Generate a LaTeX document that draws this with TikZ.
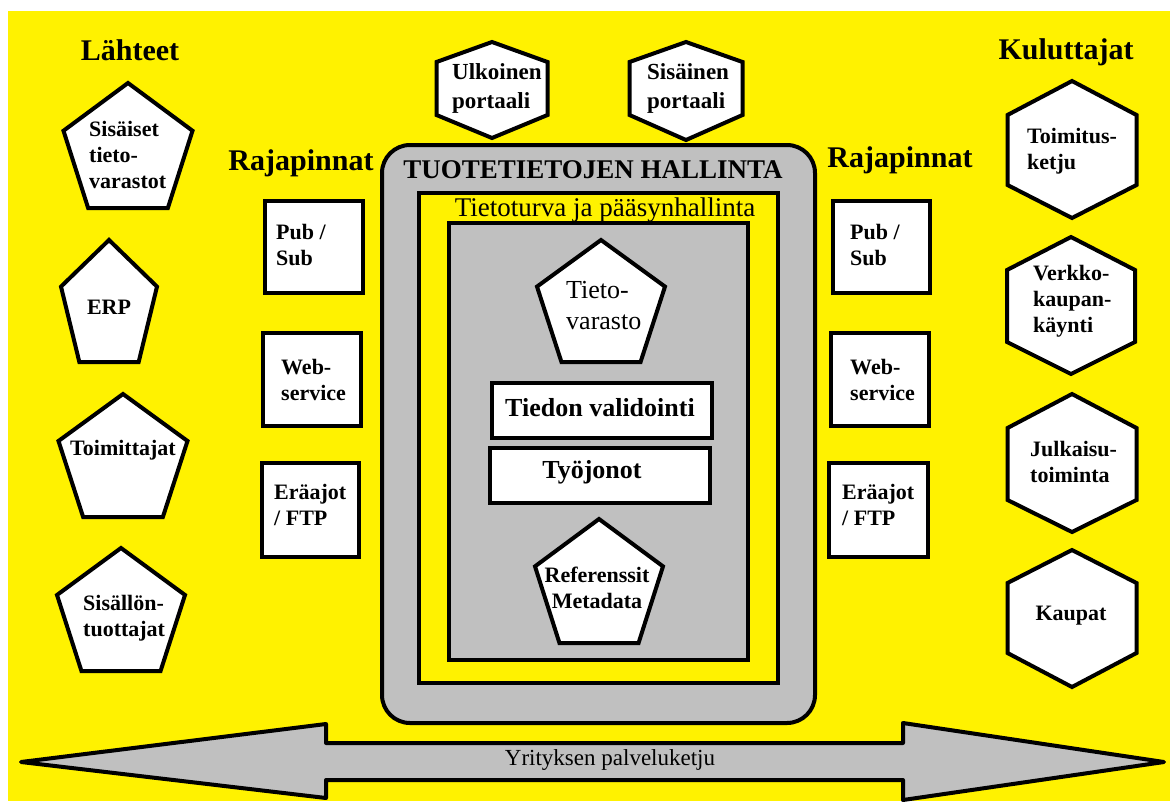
\documentclass[tikz,border=0pt]{standalone}
\usepackage{fontspec}
\setmainfont{Liberation Serif}
\definecolor{bgyellow}{RGB}{255,242,0}
\definecolor{panelgray}{RGB}{192,192,192}

% pentagon: centre x, top y, width, height
\newcommand\pentpath[4]{%
  \draw[whiteshape] (#1,#2) -- ({#1+#3/2},{#2+0.382*#4}) -- ({#1+0.309*#3},{#2+#4})
    -- ({#1-0.309*#3},{#2+#4}) -- ({#1-#3/2},{#2+0.382*#4}) -- cycle;}
% pointy-top hexagon: centre x, top y, upper side y, lower side y, bottom y, half width
\newcommand\hexpath[6]{%
  \draw[whiteshape] (#1,#2) -- ({#1+#6},#3) -- ({#1+#6},#4) -- (#1,#5)
    -- ({#1-#6},#4) -- ({#1-#6},#3) -- cycle;}

\tikzset{
  outline/.style={draw=black, line width=4pt},
  whiteshape/.style={outline, fill=white},
  lbl/.style={font=\fontsize{22}{26}\selectfont\bfseries, align=left, inner sep=0pt, text=black},
  lblc/.style={lbl, align=center},
  head/.style={font=\fontsize{30}{34}\selectfont\bfseries, inner sep=0pt},
  bigtxt/.style={font=\fontsize{26}{31}\selectfont\bfseries, inner sep=0pt},
}

\begin{document}
\begin{tikzpicture}[x=1pt,y=-1pt]
\useasboundingbox (0,0) rectangle (1170,801);
\fill[white] (0,0) rectangle (1170,801);
\fill[bgyellow] (8,11) rectangle (1170,801);

% column headings
\node[head] (lahteet) at (130,50) {Lähteet};
\node[head] (kuluttajat) at (1066,52) {Kuluttajat};
\node[head] (rajaL) at (301,163) {Rajapinnat};
\node[head] (rajaR) at (900,160) {Rajapinnat};

% sources
\pentpath{128}{83}{129}{125}
\node[lbl, anchor=west] (sisaiset) at (89,155) {Sisäiset\\tieto-\\varastot};
\pentpath{109}{240}{96}{122}
\node[lblc] (erp) at (109,307) {ERP};
\pentpath{123}{394}{129}{123}
\node[lblc] (toimittajat) at (123,450) {Toimittajat};
\pentpath{121}{548}{128}{123}
\node[lbl, anchor=west] (sisallon) at (83,618) {Sisällön-\\tuottajat};

% interfaces, left
\draw[whiteshape] (265,201) rectangle (363,293);
\node[lbl, anchor=west] (pubL) at (276,245) {Pub /\\Sub};
\draw[whiteshape] (263,333) rectangle (361,426);
\node[lbl, anchor=west] (webL) at (281,380) {Web-\\service};
\draw[whiteshape] (262,463) rectangle (359,557);
\node[lbl, anchor=west] (ftpL) at (274,505) {Eräajot\\/ FTP};

% interfaces, right
\draw[whiteshape] (833,201) rectangle (930,293);
\node[lbl, anchor=west] (pubR) at (850,245) {Pub /\\Sub};
\draw[whiteshape] (831,333) rectangle (929,426);
\node[lbl, anchor=west] (webR) at (850,380) {Web-\\service};
\draw[whiteshape] (829,463) rectangle (928,557);
\node[lbl, anchor=west] (ftpR) at (842,505) {Eräajot\\/ FTP};

% portals
\hexpath{492}{42}{62}{115}{138}{55.5}
\node[lbl, font=\fontsize{23}{29}\selectfont\bfseries, anchor=west] (ulkoinen) at (452,88) {Ulkoinen\\portaali};
\hexpath{686}{42}{62}{115}{140}{56.5}
\node[lbl, font=\fontsize{23}{29}\selectfont\bfseries, anchor=west] (sisainen) at (647,88) {Sisäinen\\portaali};

% consumers
\hexpath{1072}{81}{115}{185}{218}{64.5}
\node[lbl, anchor=west] (toimitus) at (1027,151) {Toimitus-\\ketju};
\hexpath{1071}{237}{270}{342}{374}{64}
\node[lbl, anchor=west] (verkko) at (1033,301) {Verkko-\\kaupan-\\käynti};
\hexpath{1072}{394}{428}{500}{532}{64.5}
\node[lbl, anchor=west] (julkaisu) at (1030,462) {Julkaisu-\\toiminta};
\hexpath{1072}{550}{583}{653}{687}{64.5}
\node[lblc] (kaupat) at (1071,616) {Kaupat};

% product information management core
\draw[outline, fill=panelgray, rounded corners=28pt] (382,145) rectangle (815,723);
\node[inner sep=0pt, font=\fontsize{27}{31}\selectfont\bfseries] (pim) at (593,170) {TUOTETIETOJEN HALLINTA};
\draw[outline, fill=bgyellow] (419,193) rectangle (778,683);
\node[inner sep=0pt, font=\fontsize{27}{31}\selectfont] (turva) at (605,210) {Tietoturva ja pääsynhallinta};
\draw[outline, fill=panelgray] (449,223) rectangle (748,660);

\pentpath{601}{240}{128}{122}
\node[lbl, font=\fontsize{26}{31}\selectfont, anchor=west] (varasto) at (566,306) {Tieto-\\varasto};
\draw[whiteshape] (492,383) rectangle (712,438);
\node[bigtxt] (validointi) at (600,408) {Tiedon validointi};
\draw[whiteshape] (490,448) rectangle (710,503);
\node[bigtxt] (tyojonot) at (592,472) {Työjonot};
\pentpath{599}{519}{128}{124}
\node[lblc] (referenssit) at (597,588) {Referenssit\\Metadata};

% service chain double arrow
\draw[outline, fill=panelgray, line join=round]
  (21,762) -- (326,724) -- (326,743) -- (903,743) -- (903,723) -- (1164,762)
  -- (903,800) -- (903,780) -- (326,780) -- (326,798) -- cycle;
\node[inner sep=0pt, font=\fontsize{23}{27}\selectfont] (ketju) at (610,760) {Yrityksen palveluketju};
\end{tikzpicture}
\end{document}
